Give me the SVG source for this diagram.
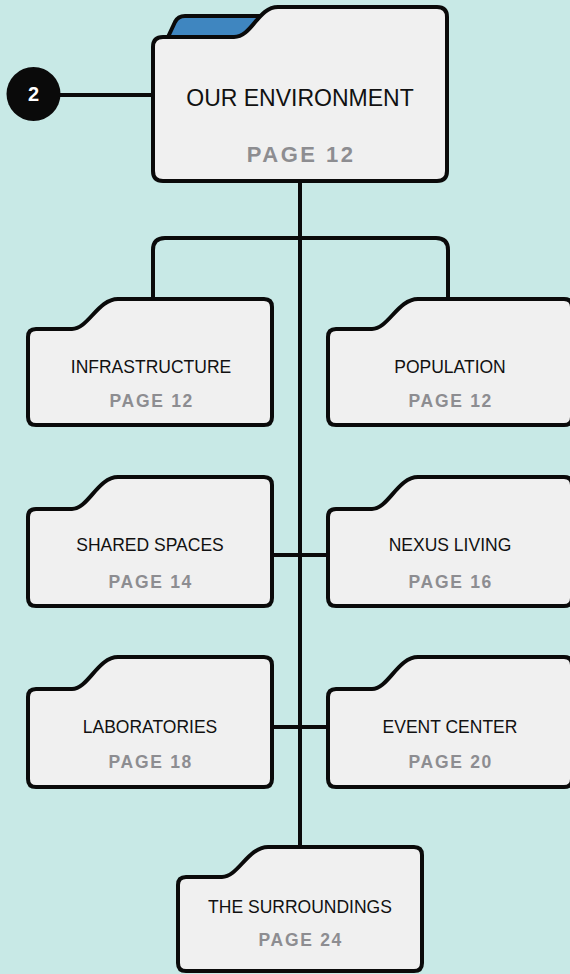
<svg xmlns="http://www.w3.org/2000/svg" width="570" height="974" viewBox="0 0 570 974">
<style>
.bg{fill:#c8e9e6}
.f{fill:#f0f0f0;stroke:#0a0a0a;stroke-width:4;stroke-linejoin:round}
.c{fill:none;stroke:#0a0a0a;stroke-width:4}
.t{font-family:"Liberation Sans",Arial,sans-serif;font-size:17.5px;fill:#111;text-anchor:middle}
.p{font-family:"Liberation Sans",Arial,sans-serif;font-size:17.5px;fill:#8d8d91;font-weight:bold;letter-spacing:1.7px;text-anchor:middle}
</style>
<rect class="bg" x="0" y="0" width="570" height="974"/>
<g id="connectors">
<path class="c" d="M300,181 V847"/>
<path class="c" d="M153,299 V250 Q153,238 165,238 H436 Q448,238 448,250 V299"/>
<path class="c" d="M60,95 H153"/>
<path class="c" d="M272,555 H328"/>
<path class="c" d="M272,727 H328"/>
</g>
<g id="badge">
<circle cx="33.5" cy="94" r="27" fill="#0a0a0a"/>
<text x="33.5" y="101" font-family="Liberation Sans,Arial,sans-serif" font-size="20" font-weight="bold" fill="#fff" text-anchor="middle">2</text>
</g>
<g id="root">
<path d="M168,37 L175,22 Q178,16 185,16 H272 V37 Z" fill="#3f86c0" stroke="#0a0a0a" stroke-width="4" stroke-linejoin="round"/>
<path class="f" d="M153,47 Q153,37 163,37 H234 C252,37 258,7 278,7 H437 Q447,7 447,17 V171 Q447,181 437,181 H163 Q153,181 153,171 Z"/>
<text class="t" x="300" y="106" style="font-size:23px">OUR ENVIRONMENT</text>
<text class="p" x="301.2" y="162" style="font-size:22px;letter-spacing:2.5px">PAGE 12</text>
</g>
<g id="infrastructure">
<path class="f" d="M28,337 Q28,329 36,329 H72 C88,329 98,299 118,299 H264 Q272,299 272,307 V417 Q272,425 264,425 H36 Q28,425 28,417 Z"/>
<text class="t" x="151" y="373">INFRASTRUCTURE</text>
<text class="p" x="151.8" y="407">PAGE 12</text>
</g>
<g id="population">
<path class="f" d="M328,337 Q328,329 336,329 H372 C388,329 398,299 418,299 H564 Q572,299 572,307 V417 Q572,425 564,425 H336 Q328,425 328,417 Z"/>
<text class="t" x="450" y="373">POPULATION</text>
<text class="p" x="450.8" y="407">PAGE 12</text>
</g>
<g id="shared-spaces">
<path class="f" d="M28,517 Q28,509 36,509 H72 C88,509 98,477 118,477 H264 Q272,477 272,485 V598 Q272,606 264,606 H36 Q28,606 28,598 Z"/>
<text class="t" x="150" y="551">SHARED SPACES</text>
<text class="p" x="150.8" y="588">PAGE 14</text>
</g>
<g id="nexus-living">
<path class="f" d="M328,517 Q328,509 336,509 H372 C388,509 398,477 418,477 H564 Q572,477 572,485 V598 Q572,606 564,606 H336 Q328,606 328,598 Z"/>
<text class="t" x="450" y="551">NEXUS LIVING</text>
<text class="p" x="450.8" y="588">PAGE 16</text>
</g>
<g id="laboratories">
<path class="f" d="M28,697 Q28,689 36,689 H72 C88,689 98,657 118,657 H264 Q272,657 272,665 V779 Q272,787 264,787 H36 Q28,787 28,779 Z"/>
<text class="t" x="150" y="733">LABORATORIES</text>
<text class="p" x="150.8" y="768">PAGE 18</text>
</g>
<g id="event-center">
<path class="f" d="M328,697 Q328,689 336,689 H372 C388,689 398,657 418,657 H564 Q572,657 572,665 V779 Q572,787 564,787 H336 Q328,787 328,779 Z"/>
<text class="t" x="450" y="733">EVENT CENTER</text>
<text class="p" x="450.8" y="768">PAGE 20</text>
</g>
<g id="surroundings">
<path class="f" d="M178,885 Q178,877 186,877 H222 C238,877 248,847 268,847 H414 Q422,847 422,855 V963 Q422,971 414,971 H186 Q178,971 178,963 Z"/>
<text class="t" x="300" y="913">THE SURROUNDINGS</text>
<text class="p" x="300.8" y="946">PAGE 24</text>
</g>
</svg>
